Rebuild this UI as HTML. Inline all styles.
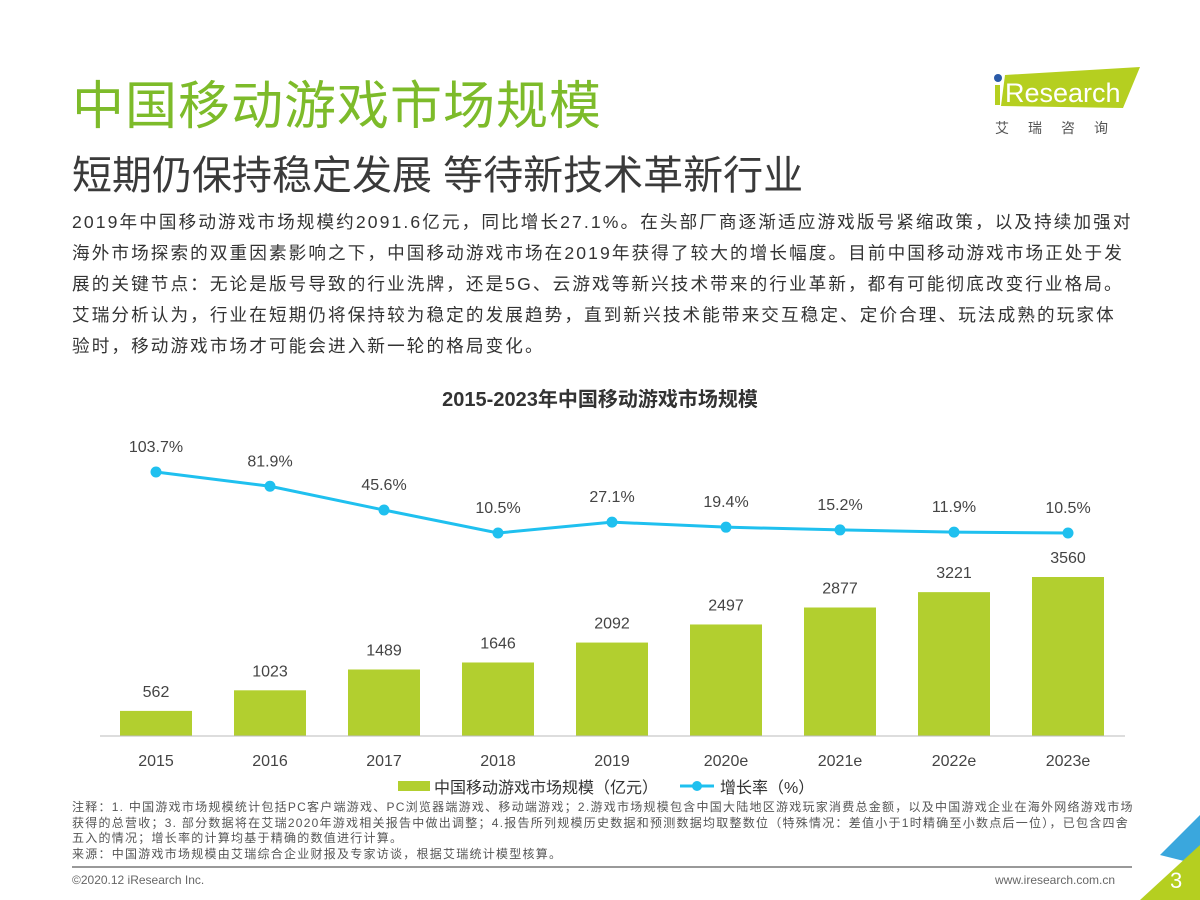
<!DOCTYPE html>
<html><head><meta charset="utf-8"><style>
body{margin:0;width:1200px;height:900px;background:#fff;position:relative;overflow:hidden;font-family:"Liberation Sans","Noto Sans CJK SC",sans-serif;}
.a{position:absolute;margin:0;}
.nw{white-space:nowrap;}
</style></head><body>
<div class="a" style="left:72px;top:64px;font-size:52px;color:#7dbb2a;letter-spacing:1px;">中国移动游戏市场规模</div>
<div class="a" style="left:72px;top:143px;font-size:40px;color:#3a3a3a;">短期仍保持稳定发展 等待新技术革新行业</div>
<div class="a" style="left:985px;top:63px;width:160px;height:75px;">
<svg width="160" height="75"><polygon points="20,12 155,4 138,45 16,43" fill="#b5cf20"/><circle cx="13" cy="15" r="4" fill="#2a5aa8"/><rect x="10" y="22" width="5" height="20" fill="#b5cf20"/><text x="20" y="39" font-size="27" fill="#fff" font-family="Liberation Sans">Research</text><text x="10" y="70" font-size="14" fill="#555" letter-spacing="19" font-family="Noto Sans CJK SC">艾瑞咨询</text></svg></div>
<div class="a nw" style="left:72px;top:207px;font-size:17.6px;line-height:31px;color:#333;letter-spacing:2.1px;">2019年中国移动游戏市场规模约2091.6亿元，同比增长27.1%。在头部厂商逐渐适应游戏版号紧缩政策，以及持续加强对<br>海外市场探索的双重因素影响之下，中国移动游戏市场在2019年获得了较大的增长幅度。目前中国移动游戏市场正处于发<br>展的关键节点：无论是版号导致的行业洗牌，还是5G、云游戏等新兴技术带来的行业革新，都有可能彻底改变行业格局。<br>艾瑞分析认为，行业在短期仍将保持较为稳定的发展趋势，直到新兴技术能带来交互稳定、定价合理、玩法成熟的玩家体<br>验时，移动游戏市场才可能会进入新一轮的格局变化。</div>
<div class="a" style="left:0;width:1200px;text-align:center;top:383px;font-size:20px;font-weight:bold;color:#333;">2015-2023年中国移动游戏市场规模</div>
<svg id="chart" class="a" style="left:0;top:0" width="1200" height="900"></svg>
<div class="a nw" style="left:72px;top:800px;font-size:12px;line-height:15.5px;color:#555;letter-spacing:1.25px;">注释：1. 中国游戏市场规模统计包括PC客户端游戏、PC浏览器端游戏、移动端游戏；2.游戏市场规模包含中国大陆地区游戏玩家消费总金额，以及中国游戏企业在海外网络游戏市场<br>获得的总营收；3. 部分数据将在艾瑞2020年游戏相关报告中做出调整；4.报告所列规模历史数据和预测数据均取整数位（特殊情况：差值小于1时精确至小数点后一位），已包含四舍<br>五入的情况；增长率的计算均基于精确的数值进行计算。<br>来源：中国游戏市场规模由艾瑞综合企业财报及专家访谈，根据艾瑞统计模型核算。</div>
<div class="a" style="left:72px;top:866px;width:1060px;height:2px;background:#999;"></div>
<div class="a" style="left:72px;top:873px;font-size:12px;color:#666;">©2020.12 iResearch Inc.</div>
<div class="a" style="left:995px;top:873px;font-size:12px;color:#666;">www.iresearch.com.cn</div>
<svg class="a" style="left:1140px;top:815px" width="60" height="85"><polygon points="60,0 60,50 20,40" fill="#3aa7dd"/><polygon points="60,30 60,85 0,85" fill="#b5cf20"/><text x="30" y="73" font-size="22" fill="#fff" font-family="Liberation Sans">3</text></svg>
<script>
const categories=["2015","2016","2017","2018","2019","2020e","2021e","2022e","2023e"];
const marketSize=[562,1023,1489,1646,2092,2497,2877,3221,3560];
const growthRate=[103.7,81.9,45.6,10.5,27.1,19.4,15.2,11.9,10.5];
const rateLabels=["103.7%","81.9%","45.6%","10.5%","27.1%","19.4%","15.2%","11.9%","10.5%"];
const svg=document.getElementById('chart');const NS="http://www.w3.org/2000/svg";
function mk(t,a,txt){const e=document.createElementNS(NS,t);for(const k in a)e.setAttribute(k,a[k]);if(txt!==undefined)e.textContent=txt;svg.appendChild(e);return e;}
const x=i=>156+i*114;
const yBar=v=>736-v*159/3560;
const yRate=v=>533-(v-10.5)*61/93.2;
categories.forEach((c,i)=>{
 const b=mk('rect',{x:x(i)-36,y:yBar(marketSize[i]),width:72,height:736-yBar(marketSize[i]),fill:'#b2cf2f'});
 
 
 const l=mk('text',{x:x(i),y:yBar(marketSize[i])-14,'text-anchor':'middle','font-size':16,fill:'#444'},marketSize[i]);
 
 
 const t=mk('text',{x:x(i),y:766,'text-anchor':'middle','font-size':16,fill:'#444'},c);
 
 
});
const ax=mk('line',{x1:100,x2:1125,y1:736,y2:736,stroke:'#bbb','stroke-width':1});


const ln=mk('polyline',{points:growthRate.map((v,i)=>x(i)+','+yRate(v)).join(' '),fill:'none',stroke:'#1fc0ef','stroke-width':3});


growthRate.forEach((v,i)=>{
 const p=mk('circle',{cx:x(i),cy:yRate(v),r:5.5,fill:'#1fc0ef'});
 
 
 const l=mk('text',{x:x(i),y:yRate(v)-20,'text-anchor':'middle','font-size':16,fill:'#444'},rateLabels[i]);
 
 
});
const lg1=mk('rect',{x:398,y:781,width:32,height:10,fill:'#b2cf2f'});


const lt1=mk('text',{x:434,y:793,'font-size':16,fill:'#333'},'中国移动游戏市场规模（亿元）');


const lg2=mk('line',{x1:680,x2:714,y1:786,y2:786,stroke:'#1fc0ef','stroke-width':3});


const lg3=mk('circle',{cx:697,cy:786,r:5,fill:'#1fc0ef'});


const lt2=mk('text',{x:720,y:793,'font-size':16,fill:'#333'},'增长率（%）');


</script>
</body></html>
